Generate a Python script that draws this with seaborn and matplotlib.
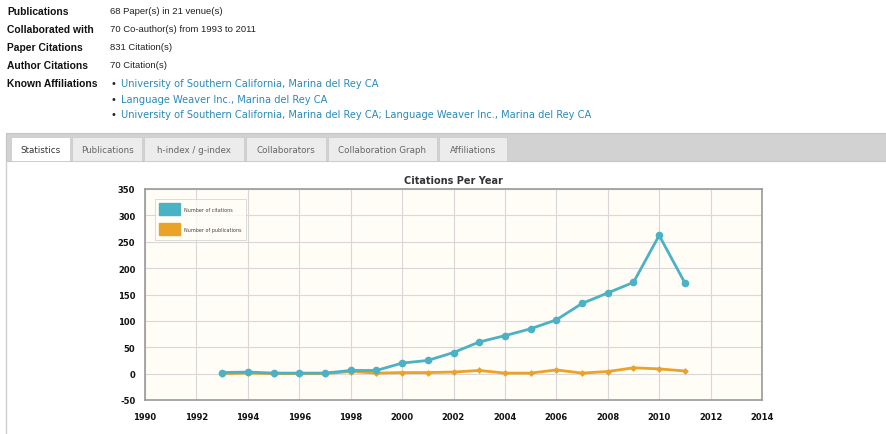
import numpy as np
import pandas as pd
import matplotlib.pyplot as plt
import seaborn as sns
from matplotlib.patches import Rectangle, Patch

# Dados
anos = [1993, 1994, 1995, 1996, 1997, 1998, 1999, 2000, 2001, 2002,
        2003, 2004, 2005, 2006, 2007, 2008, 2009, 2010, 2011]
citacoes = [2, 3, 1, 1, 1, 6, 6, 20, 25, 40,
            60, 72, 85, 102, 133, 153, 173, 262, 172]
publicacoes = [0, 1, 0, 0, 0, 4, 1, 2, 2, 3,
               6, 1, 1, 7, 1, 4, 11, 9, 5]

info_rotulos = ['Publications', 'Collaborated with', 'Paper Citations',
                'Author Citations', 'Known Affiliations']
info_valores = ['68 Paper(s) in 21 venue(s)', '70 Co-author(s) from 1993 to 2011',
                '831 Citation(s)', '70 Citation(s)']
afiliacoes = ['University of Southern California, Marina del Rey CA',
              'Language Weaver Inc., Marina del Rey CA',
              'University of Southern California, Marina del Rey CA; Language Weaver Inc., Marina del Rey CA']
abas = ['Statistics', 'Publications', 'h-index / g-index', 'Collaborators',
        'Collaboration Graph', 'Affiliations']
x_ticks = list(range(1990, 2015, 2))
y_ticks = list(range(-50, 351, 50))

df = pd.DataFrame({'Ano': anos, 'Citacoes': citacoes, 'Publicacoes': publicacoes})

sns.set_theme(style='white')
plt.rcParams['font.family'] = ['DejaVu Sans']

W, H = 886, 435
fig = plt.figure(figsize=(W / 100, H / 100), dpi=100)
fig.patch.set_facecolor('white')

def fy(y):
    return 1 - y / H

def fx(x):
    return x / W

# Bloco de informações no topo
linhas_y = [12, 30, 48, 66, 84]
for rot, y in zip(info_rotulos, linhas_y):
    fig.text(fx(7), fy(y), rot, fontsize=7.4, weight='bold', color='#111111', va='center',
             family='Liberation Sans')
for val, y in zip(info_valores, linhas_y):
    fig.text(fx(110), fy(y), val, fontsize=6.8, color='#222222', va='center',
             family='Liberation Sans')
for af, y in zip(afiliacoes, [84, 100, 115]):
    fig.text(fx(111), fy(y), '•', fontsize=7, color='#222222', va='center')
    fig.text(fx(121), fy(y), af, fontsize=7.1, color='#2a8ab8', va='center')

# Barra de abas
fig.patches.append(Rectangle((fx(6), fy(162)), fx(880), 28 / H, transform=fig.transFigure,
                             facecolor='#d2d2d2', edgecolor='#c4c4c4', lw=0.8))
fig.patches.append(Rectangle((fx(6), fy(435)), 0, 273 / H, transform=fig.transFigure,
                             facecolor='none', edgecolor='#cfcfcf', lw=1.0))
larg_abas = [59, 70, 100, 80, 109, 68]
x0 = 11
for i, (aba, w) in enumerate(zip(abas, larg_abas)):
    cor = 'white' if i == 0 else '#ececec'
    fig.patches.append(Rectangle((fx(x0), fy(162)), fx(w), 24 / H, transform=fig.transFigure,
                                 facecolor=cor, edgecolor='#cccccc', lw=0.6))
    fig.text(fx(x0 + w / 2), fy(151), aba, fontsize=6.3, ha='center', va='center',
             color='#333333' if i == 0 else '#666666')
    x0 += w + 2

# Gráfico
ax = fig.add_axes([fx(145), fy(401), fx(762 - 145), (401 - 190) / H])
ax.set_facecolor('#fffdf6')
sns.lineplot(data=df, x='Ano', y='Citacoes', ax=ax, color='#4bb2c5', lw=2,
             marker='o', markersize=5.5, markeredgewidth=0, zorder=3)
sns.lineplot(data=df, x='Ano', y='Publicacoes', ax=ax, color='#eaa228', lw=2,
             marker='D', markersize=3.5, markeredgewidth=0, zorder=2)

ax.set_xlim(1990, 2014)
ax.set_ylim(-50, 350)
ax.set_xticks(x_ticks)
ax.set_yticks(y_ticks)
ax.set_xticklabels([str(t) for t in x_ticks], fontsize=6, color='#111111', weight='semibold')
ax.set_yticklabels([str(t) for t in y_ticks], fontsize=6, color='#111111', weight='semibold')
ax.grid(True, color='#d8d8d8', lw=0.8)
ax.set_axisbelow(True)
ax.tick_params(axis='both', length=3, color='#999999', pad=4)
ax.tick_params(axis='x', pad=6)
for s in ax.spines.values():
    s.set_color('#999999')
    s.set_linewidth(1.2)
ax.set_xlabel('')
ax.set_ylabel('')
ax.set_title('Citations Per Year', fontsize=7, weight='bold', color='#333333', pad=4)

handles = [Patch(facecolor='#4bb2c5', edgecolor='#4bb2c5', label='Number of citations'),
           Patch(facecolor='#eaa228', edgecolor='#eaa228', label='Number of publications')]
leg = ax.legend(handles=handles, loc='upper left', bbox_to_anchor=(0.016, 0.953), fontsize=3.5,
                frameon=True, handlelength=4.3, handleheight=3.4, labelspacing=1.7,
                borderpad=0.9, handletextpad=0.8, borderaxespad=0)
leg.get_frame().set_edgecolor('#cccccc')
leg.get_frame().set_facecolor('#fffdf6')
leg.get_frame().set_linewidth(0.6)
leg.get_frame().set_boxstyle('square', pad=0)
for t in leg.get_texts():
    t.set_color('#444444')

fig.savefig('out.png', dpi=100)
